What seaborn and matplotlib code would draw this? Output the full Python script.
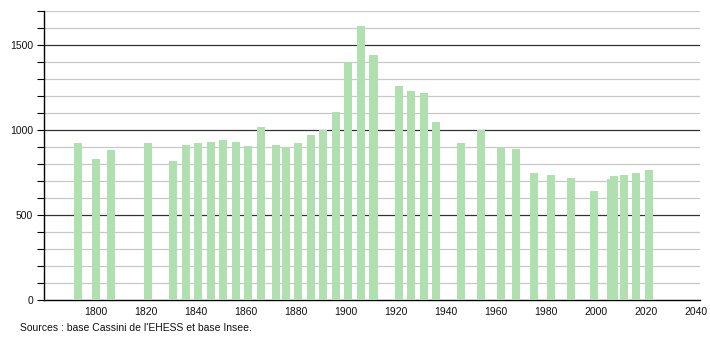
import matplotlib
matplotlib.use("Agg")
import matplotlib.pyplot as plt
import seaborn as sns
import numpy as np
import pandas as pd

years = [1793, 1800, 1806, 1821, 1831, 1836, 1841, 1846, 1851, 1856,
         1861, 1866, 1872, 1876, 1881, 1886, 1891, 1896, 1901, 1906,
         1911, 1921, 1926, 1931, 1936, 1946, 1954, 1962, 1968, 1975,
         1982, 1990, 1999, 2006, 2007, 2011, 2016, 2021]
population = [922, 827, 882, 925, 816, 912, 922, 929, 941, 929,
              906, 1016, 910, 898, 922, 969, 1000, 1106, 1396, 1612,
              1439, 1259, 1229, 1216, 1047, 922, 1000, 898, 890, 745,
              735, 716, 643, 712, 727, 735, 747, 765]
x_ticks = [1800, 1820, 1840, 1860, 1880, 1900, 1920, 1940, 1960, 1980, 2000, 2020, 2040]
y_labels = [0, 500, 1000, 1500]
source_text = "Sources : base Cassini de l'EHESS et base Insee."

sns.set_style("white")
plt.rcParams['font.family'] = ['Liberation Sans', 'DejaVu Sans']

df = pd.DataFrame({"year": years, "pop": population})

fig = plt.figure(figsize=(7.1, 3.4), dpi=100)
ax = fig.add_axes([44 / 710, 40 / 340, 656 / 710, 289.3 / 340])

sns.barplot(data=df, x="year", y="pop", native_scale=True, width=3.2,
            color="#b0e0b0", saturation=1, edgecolor="none", ax=ax, zorder=3)

ax.set_xlim(1779.4, 2041.4)
ax.set_ylim(0, 1700)

# gridlines
for v in range(100, 1701, 100):
    if v % 500 == 0:
        ax.axhline(v, color="#333333", lw=0.9, zorder=1)
    else:
        ax.axhline(v, color="#c8c8c8", lw=0.9, zorder=1)

ax.set_yticks(range(0, 1701, 100), minor=True)
ax.set_yticks(y_labels)
ax.set_yticklabels([str(v) for v in y_labels], fontsize=7.5, color="#111111")
ax.tick_params(axis="y", which="both", left=True, length=5, width=0.8,
               color="black", direction="out", pad=3)
ax.set_xticks(x_ticks)
ax.set_xticklabels([str(v) for v in x_ticks], fontsize=7.5, color="#111111")
ax.tick_params(axis="x", bottom=False, length=0, pad=5)
ax.set_xlabel("")
ax.set_ylabel("")

for s in ["top", "right"]:
    ax.spines[s].set_visible(False)
ax.spines["left"].set_color("black")
ax.spines["bottom"].set_color("black")
ax.spines["left"].set_linewidth(1)
ax.spines["bottom"].set_linewidth(1)

fig.text(20 / 710, 1 - 328 / 340, source_text, fontsize=7.5, va="center",
         ha="left", color="#111111")

fig.savefig("out.png", dpi=100)
